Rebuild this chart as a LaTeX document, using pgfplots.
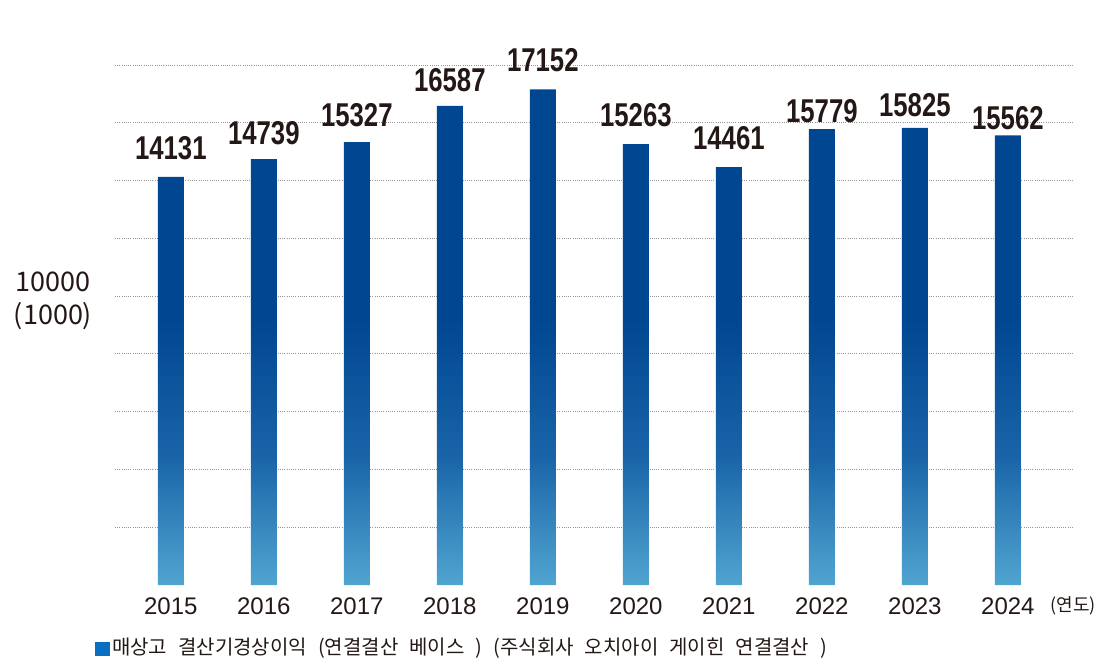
\documentclass[border=0pt]{standalone}
\usepackage{pgfplots}
\pgfplotsset{compat=1.18}
\usepackage{pgfplotstable}
\usepackage{graphicx}
\usepackage{fontspec}
\setmainfont{Liberation Sans}
\newfontfamily\kr{Noto Sans CJK KR}
\definecolor{txt}{HTML}{231815}
\definecolor{bartop}{RGB}{0,70,145}
\definecolor{barmid}{RGB}{25,100,168}
\definecolor{barbot}{RGB}{80,165,208}
\definecolor{legblue}{HTML}{0A6FC2}
\definecolor{gridc}{RGB}{150,150,150}
\pgfdeclareverticalshading{barshade}{100bp}{color(0bp)=(barbot); color(25bp)=(barbot); color(38bp)=(barmid); color(52bp)=(bartop); color(100bp)=(bartop)}
\pgfplotstableread{
x y off
0 14131 17
1 14739 14
2 15327 15
3 16587 14
4 17152 17
5 15263 17
6 14461 17
7 15779 6
8 15825 11
9 15562 5
}\datatable
\begin{document}
\begin{tikzpicture}
\useasboundingbox (0,0) rectangle (1110pt,669pt);
\begin{axis}[
  at={(115pt,84pt)}, anchor=south west,
  scale only axis, width=958pt, height=520pt,
  xmin=-0.6, xmax=9.7, ymin=0, ymax=18000,
  scaled y ticks=false,
  axis line style={draw=none}, tick style={draw=none},
  ytick={2000,4000,...,18000}, yticklabels={},
  ymajorgrids, grid style={gridc, line width=0.8pt, dash pattern=on 1pt off 1.2pt},
  xtick={0,...,9},
  xticklabels={2015,2016,2017,2018,2019,2020,2021,2022,2023,2024},
  xticklabel style={font=\fontsize{24}{24}\selectfont, text=txt, yshift=-5pt},
  ybar, bar width=26pt,
  point meta=explicit symbolic,
  visualization depends on={\thisrow{off} \as \labeloff},
  nodes near coords={\scalebox{0.78}[1]{\pgfplotspointmeta}},
  nodes near coords style={font=\fontsize{33}{33}\selectfont\bfseries, text=txt, anchor=south, inner sep=0pt, yshift=\labeloff pt},
  clip=false,
]
\addplot[draw=none, shading=barshade] table[x=x, y=y, meta=y] {\datatable};
\node[font=\kr\fontsize{18}{18}\selectfont, text=txt] at (axis cs:9.7,0) [yshift=-21pt] {(연도)};
\node[font=\kr\fontsize{27}{33}\selectfont, text=txt, align=center] at (rel axis cs:-0.0647,0.546) {10000\\(1000)};
\node[font=\kr\fontsize{20}{20}\selectfont, text=txt, anchor=west, inner sep=0pt] at (rel axis cs:-0.0209,-0.121) {\spaceskip=11pt\relax{\color{legblue}\rule[-2pt]{15pt}{14pt}}\hspace{2pt}매상고 결산기경상이익 (연결결산 베이스 ) (주식회사 오치아이 게이힌 연결결산 )};
\end{axis}
\end{tikzpicture}
\end{document}
